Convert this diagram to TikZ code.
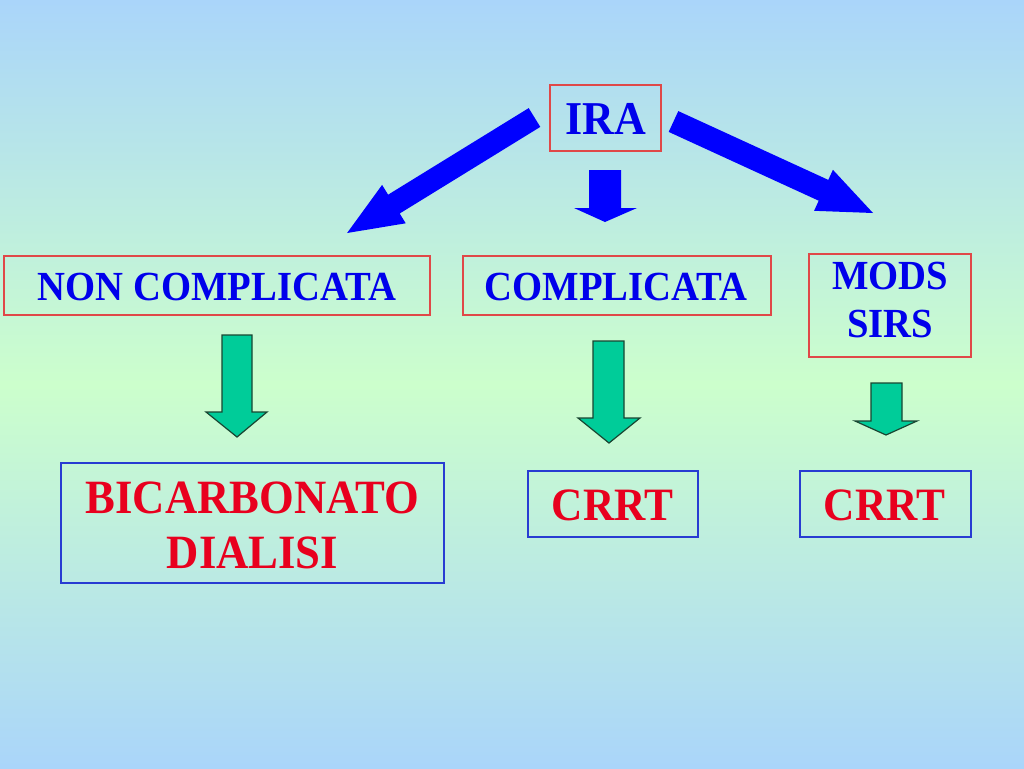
\documentclass[tikz,border=0pt]{standalone}
\usepackage{fontspec}
\usepackage{graphicx}
\setmainfont{Liberation Serif}
\newcommand{\tallx}[1]{\scalebox{1}[1.07]{#1}}
\begin{document}
\begin{tikzpicture}[x=0.75pt,y=-0.75pt,
  redbox/.style={draw=boxred,line width=1pt,rectangle,inner sep=0pt},
  bluebox/.style={draw=boxblue,line width=1pt,rectangle,inner sep=0pt},
  bluetxt/.style={text=txtblue,font=\bfseries\fontsize{29pt}{36pt}\selectfont,align=center,inner sep=0pt},
  redtxt/.style={text=txtred,font=\bfseries\fontsize{33pt}{41pt}\selectfont,align=center,inner sep=0pt},
  bigarrow/.style={fill=arrowblue,draw=none},
  greenarrow/.style={fill=arrowgreen,draw=arrowedge,line width=0.9pt,line join=miter}
]
\definecolor{bgblue}{RGB}{170,213,250}
\definecolor{bggreen}{RGB}{204,255,204}
\definecolor{boxred}{RGB}{224,72,72}
\definecolor{boxblue}{RGB}{40,60,210}
\definecolor{txtblue}{RGB}{0,0,235}
\definecolor{txtred}{RGB}{232,0,30}
\definecolor{arrowblue}{RGB}{0,0,255}
\definecolor{arrowgreen}{RGB}{0,204,153}
\definecolor{arrowedge}{RGB}{25,70,50}
\useasboundingbox (0,0) rectangle (1024,768);
\shade[top color=bgblue,bottom color=bggreen] (0,0) rectangle (1024,385);
\shade[top color=bggreen,bottom color=bgblue] (0,384) rectangle (1024,768);

% boxes
\node[redbox,minimum width=111*0.75pt,minimum height=66*0.75pt] (ira) at (605.5,118) {};
\node[bluetxt,font=\bfseries\fontsize{33pt}{40pt}\selectfont] (iratxt) at (605.5,118.5) {\tallx{IRA}};

\node[redbox,minimum width=426*0.75pt,minimum height=59*0.75pt] (nonc) at (217,285.5) {};
\node[bluetxt] (nonctxt) at (217,286.5) {\tallx{NON COMPLICATA}};

\node[redbox,minimum width=308*0.75pt,minimum height=59*0.75pt] (comp) at (617,285.5) {};
\node[bluetxt] (comptxt) at (616,286.5) {\tallx{COMPLICATA}};

\node[redbox,minimum width=162*0.75pt,minimum height=103*0.75pt] (mods) at (890,305.5) {};
\node[bluetxt] (modstxt) at (890,300) {\tallx{MODS}\\\tallx{SIRS}};

\node[bluebox,minimum width=383*0.75pt,minimum height=120*0.75pt] (bic) at (252.5,523) {};
\node[redtxt,font=\bfseries\fontsize{33.5pt}{41.25pt}\selectfont] (bictxt) at (252.5,525) {\tallx{BICARBONATO}\\\tallx{DIALISI}};

\node[bluebox,minimum width=170*0.75pt,minimum height=66*0.75pt] (crrta) at (613,504) {};
\node[redtxt,font=\bfseries\fontsize{32.5pt}{40pt}\selectfont] (crrtatxt) at (612.5,505.5) {\tallx{CRRT}};

\node[bluebox,minimum width=171*0.75pt,minimum height=66*0.75pt] (crrtb) at (885.5,504) {};
\node[redtxt,font=\bfseries\fontsize{32.5pt}{40pt}\selectfont] (crrtbtxt) at (884.5,505.5) {\tallx{CRRT}};

% big blue arrows
\fill[bigarrow] (528.7,108.1) -- (388.1,194.7) -- (382.1,184.9) -- (347.1,233)
  -- (405.7,223.3) -- (399.7,213.5) -- (540.3,126.9) -- cycle;
\fill[bigarrow] (589,170) -- (621,170) -- (621,208) -- (637,208) -- (605,222)
  -- (574,208) -- (589,208) -- cycle;
\fill[bigarrow] (678.3,111.1) -- (828.3,179.9) -- (832.9,169.8) -- (873,213)
  -- (814.1,210.8) -- (818.7,200.7) -- (668.7,131.9) -- cycle;

% green arrows
\draw[greenarrow] (222,335) -- (252,335) -- (252,412) -- (267,412) -- (237,437)
  -- (206,412) -- (222,412) -- cycle;
\draw[greenarrow] (593,341) -- (624,341) -- (624,418) -- (640,418) -- (609,443)
  -- (578,418) -- (593,418) -- cycle;
\draw[greenarrow] (871,383) -- (902,383) -- (902,421) -- (917,421) -- (886,435)
  -- (855,421) -- (871,421) -- cycle;
\end{tikzpicture}
\end{document}
